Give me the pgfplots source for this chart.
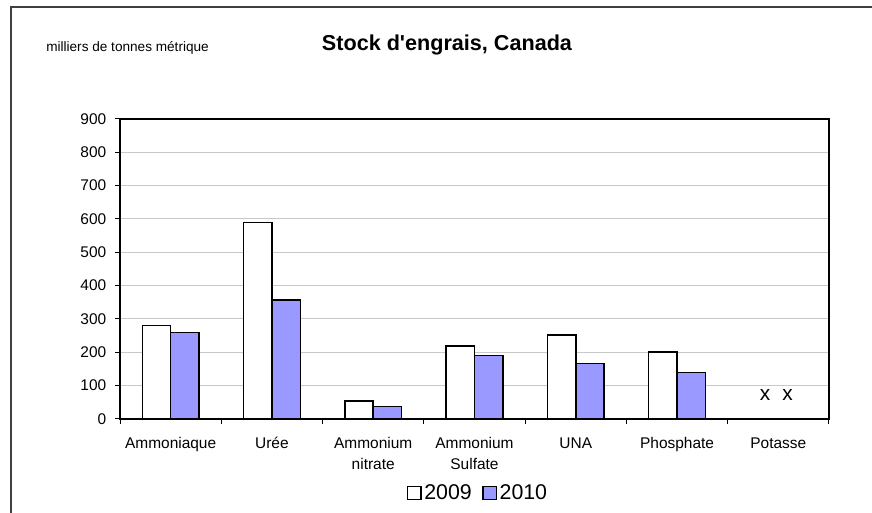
\documentclass[border=0pt]{standalone}
\usepackage{pgfplots}
\pgfplotsset{compat=1.18}
\usepackage{fontspec}
\setmainfont{Liberation Sans}
\definecolor{bar2010}{HTML}{9999FF}
\definecolor{gridgray}{HTML}{C8C8C8}
\definecolor{framegray}{HTML}{404040}
\begin{document}
\begin{tikzpicture}[x=0.75pt,y=0.75pt]
\path[use as bounding box] (0,0) rectangle (872,513);
% outer frame (left and top)
\draw[framegray, line width=1.5pt] (11,0) -- (11,506) -- (872,506);
\node[anchor=base west, inner sep=0pt, font=\fontsize{10.2}{12}\selectfont] at (46,461) {milliers de tonnes métrique};
\node[anchor=base, inner sep=0pt, font=\bfseries\fontsize{16.2}{19}\selectfont] at (447,462) {Stock d\textquotesingle engrais, Canada};
\begin{axis}[
  at={(90pt,70.5pt)}, anchor=south west,
  scale only axis, width=531.75pt, height=225pt,
  xmin=-0.5, xmax=6.5, ymin=0, ymax=900,
  ybar, bar width=0.28,
  xtick={0,...,6},
  xticklabels={\strut Ammoniaque,\strut Urée,\strut Ammonium\\nitrate,\strut Ammonium\\Sulfate,\strut UNA,\strut Phosphate,\strut Potasse},
  minor xtick={-0.5,0.5,...,6.5},
  ytick={0,100,...,900},
  tick pos=left, tick align=outside,
  major tick length=3.75pt, minor tick length=3.75pt,
  every major x tick/.append style={draw=none},
  every minor x tick/.append style={draw=black, line width=0.75pt},
  ytick style={black, line width=0.75pt},
  ymajorgrids, grid style={gridgray, line width=0.75pt},
  axis line style={black, line width=0.9pt},
  tick label style={font=\fontsize{11.6}{15.75}\selectfont},
  xticklabel style={align=center, anchor=north, yshift=-4pt},
  yticklabel style={xshift=-3pt},
  /pgf/number format/assume math mode=true,
  legend columns=2,
  legend style={at={(0.5056,-0.247)}, anchor=center, draw=none, fill=none,
    font=\fontsize{16}{18}\selectfont,
    /tikz/every even column/.append style={column sep=6pt}},
  legend image code/.code={\draw[#1, line width=0.9pt] (0pt,-5pt) rectangle (10pt,5pt);},
]
\addplot[bar shift=-0.14, fill=white, draw=black, line width=1.1pt]
  coordinates {(0,281) (1,590) (2,54) (3,219) (4,252) (5,201)};
\addplot[bar shift=0.14, fill=bar2010, draw=black, line width=1.1pt]
  coordinates {(0,259) (1,357) (2,37) (3,190) (4,167) (5,140)};
\legend{2009,2010}
\node[font=\fontsize{15.6}{18}\selectfont] at (axis cs:5.87,72) {x};
\node[font=\fontsize{15.6}{18}\selectfont] at (axis cs:6.09,72) {x};
\end{axis}
\end{tikzpicture}
\end{document}
